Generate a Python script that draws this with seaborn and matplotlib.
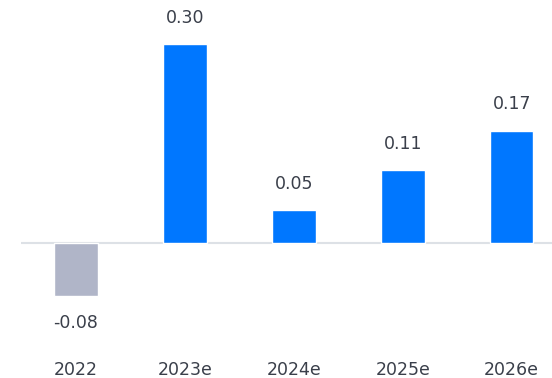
import matplotlib
matplotlib.use("Agg")
import matplotlib.pyplot as plt
import seaborn as sns
import pandas as pd

years = ["2022", "2023e", "2024e", "2025e", "2026e"]
values = [-0.08, 0.30, 0.05, 0.11, 0.17]
colors = ["#b0b5c8", "#0077ff", "#0077ff", "#0077ff", "#0077ff"]

sns.set_style("white")
plt.rcParams['font.family'] = ['DejaVu Sans']

df = pd.DataFrame({"year": years, "value": values})

fig = plt.figure(figsize=(5.52, 3.78), dpi=100)
ax = fig.add_axes([21 / 552, 38 / 378, 531 / 552, 340 / 378])

sns.barplot(data=df, x="year", y="value", hue="year", palette=colors,
            width=0.4, legend=False, ax=ax, saturation=1)

ax.axhline(0, color="#dde1e6", linewidth=1.5, zorder=0)
ax.set_xlim(-0.505, 4.37)
ax.set_ylim(-0.1456, 0.367)

# value labels
for i, v in enumerate(values):
    off = 19 if v >= 0 else -19
    ax.annotate(f"{v:.2f}", (i, v), xytext=(0, off), textcoords="offset points",
                ha="center", va="center", fontsize=12.5, color="#3a3f4a")

ax.set_xlabel("")
ax.set_ylabel("")
ax.set_yticks([])
ax.tick_params(axis="x", length=0, pad=15, labelsize=12.5, labelcolor="#3a3f4a")
for s in ax.spines.values():
    s.set_visible(False)

fig.savefig("out.png", dpi=100)
